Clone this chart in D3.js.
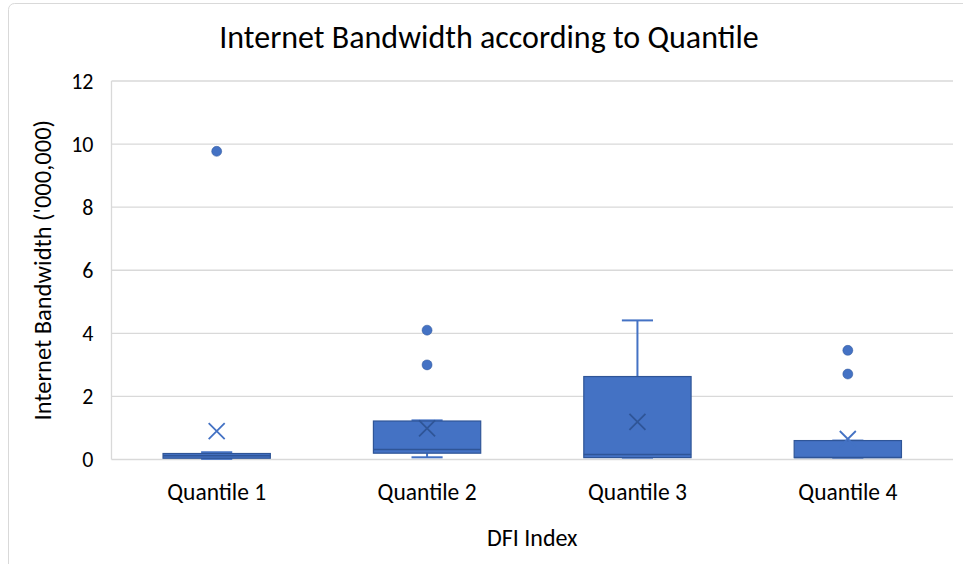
<!DOCTYPE html>
<html>
<head>
<meta charset="utf-8">
<script src="https://cdn.jsdelivr.net/npm/d3@7"></script>
<style>
  html, body { margin: 0; padding: 0; background: #fff; }
  svg { display: block; }
  text { font-family: Carlito, Lato, "Open Sans", sans-serif; fill: #000; }
</style>
</head>
<body>
<svg id="chart" width="963" height="564"></svg>
<script>
// Quartile groups along the DFI index
const categories = ["Quantile 1", "Quantile 2", "Quantile 3", "Quantile 4"];
// Box statistics per group (millions)
const whiskerLow  = [0.02, 0.07, 0.06, 0.06];
const quartile1   = [0.04, 0.20, 0.06, 0.06];
const medians     = [0.12, 0.32, 0.16, 0.06];
const quartile3   = [0.19, 1.22, 2.63, 0.60];
const whiskerHigh = [0.23, 1.24, 4.41, 0.60];
const means       = [0.90, 0.99, 1.19, 0.65];
const outliers    = [[9.77], [3.00, 4.10], [], [2.71, 3.46]];
const yTicks      = [0, 2, 4, 6, 8, 10, 12];

const svg = d3.select("#chart");
const W = 963, H = 564;
const margin = { left: 111.5, right: 10, top: 81, bottom: 104.5 };

// Chart frame
svg.append("rect")
  .attr("x", 8.5).attr("y", 3.5)
  .attr("width", W + 20).attr("height", H + 20)
  .attr("rx", 6)
  .attr("fill", "#fff").attr("stroke", "#d9d9d9").attr("stroke-width", 1);

const x = d3.scaleBand().domain(categories)
  .range([margin.left, W - margin.right]).padding(0);
const y = d3.scaleLinear().domain([0, 12])
  .range([H - margin.bottom, margin.top]);

// Horizontal gridlines
svg.append("g")
  .selectAll("line").data(yTicks).join("line")
  .attr("x1", margin.left).attr("x2", W - margin.right)
  .attr("y1", d => y(d)).attr("y2", d => y(d))
  .attr("stroke", "#d9d9d9").attr("stroke-width", 1.3);

// Left axis line
svg.append("line")
  .attr("x1", margin.left).attr("x2", margin.left)
  .attr("y1", y(12)).attr("y2", y(0))
  .attr("stroke", "#d9d9d9").attr("stroke-width", 1.3);

// Y axis tick labels
const yAxis = d3.axisLeft(y).tickValues(yTicks).tickSize(0).tickPadding(18);
const gy = svg.append("g").attr("transform", `translate(${margin.left},0)`).call(yAxis);
gy.select(".domain").remove();
gy.selectAll("text").style("font-size", "22px").attr("font-family", null).attr("fill", "#000");

// X axis category labels
const xAxis = d3.axisBottom(x).tickSize(0).tickPadding(24);
const gx = svg.append("g").attr("transform", `translate(0,${y(0)})`).call(xAxis);
gx.select(".domain").remove();
gx.selectAll("text").style("font-size", "23.5px").attr("font-family", null).attr("fill", "#000");

const blue = "#4472c4", edge = "#2f5597";
const boxW = x.bandwidth() * 0.51;
const capW = boxW * 0.29;

const groups = svg.append("g").selectAll("g")
  .data(categories.map((c, i) => ({
    c, lo: whiskerLow[i], q1: quartile1[i], med: medians[i],
    q3: quartile3[i], hi: whiskerHigh[i], mean: means[i], out: outliers[i]
  })))
  .join("g")
  .attr("transform", d => `translate(${x(d.c) + x.bandwidth() / 2},0)`);

// Whiskers and caps
groups.append("line")
  .attr("x1", 0).attr("x2", 0)
  .attr("y1", d => y(d.q3)).attr("y2", d => y(d.hi))
  .attr("stroke", blue).attr("stroke-width", 2);
groups.append("line")
  .attr("x1", 0).attr("x2", 0)
  .attr("y1", d => y(d.q1)).attr("y2", d => y(d.lo))
  .attr("stroke", blue).attr("stroke-width", 2);
groups.append("line")
  .attr("x1", -capW / 2).attr("x2", capW / 2)
  .attr("y1", d => y(d.hi)).attr("y2", d => y(d.hi))
  .attr("stroke", blue).attr("stroke-width", 2);
groups.append("line")
  .attr("x1", -capW / 2).attr("x2", capW / 2)
  .attr("y1", d => y(d.lo)).attr("y2", d => y(d.lo))
  .attr("stroke", blue).attr("stroke-width", 2);

// Boxes
groups.append("rect")
  .attr("x", -boxW / 2).attr("width", boxW)
  .attr("y", d => y(d.q3))
  .attr("height", d => Math.max(0, y(d.q1) - y(d.q3)))
  .attr("fill", blue).attr("stroke", edge).attr("stroke-width", 1.2);

// Median lines
groups.append("line")
  .attr("x1", -boxW / 2).attr("x2", boxW / 2)
  .attr("y1", d => y(d.med)).attr("y2", d => y(d.med))
  .attr("stroke", edge).attr("stroke-width", 1.5);

// Mean markers
const m = 8;
groups.append("path")
  .attr("d", d => {
    const cy = y(d.mean);
    return `M${-m},${cy - m}L${m},${cy + m}M${-m},${cy + m}L${m},${cy - m}`;
  })
  .attr("stroke", d => d.mean > d.q1 && d.mean < d.q3 ? edge : blue)
  .attr("stroke-width", 1.8).attr("fill", "none");

// Outliers
groups.selectAll("circle")
  .data(d => d.out).join("circle")
  .attr("cx", 0).attr("cy", v => y(v)).attr("r", 5)
  .attr("fill", blue).attr("stroke", edge).attr("stroke-width", 0.5);

// Title
svg.append("text")
  .attr("x", 489).attr("y", 48)
  .attr("text-anchor", "middle")
  .style("font-size", "32px")
  .text("Internet Bandwidth according to Quantile");

// Axis titles
svg.append("text")
  .attr("transform", `translate(51,${(y(0) + y(12)) / 2}) rotate(-90)`)
  .attr("text-anchor", "middle")
  .style("font-size", "24.5px")
  .text("Internet Bandwidth ('000,000)");

svg.append("text")
  .attr("x", (margin.left + W - margin.right) / 2).attr("y", 546)
  .attr("text-anchor", "middle")
  .style("font-size", "24px")
  .text("DFI Index");
</script>
</body>
</html>
